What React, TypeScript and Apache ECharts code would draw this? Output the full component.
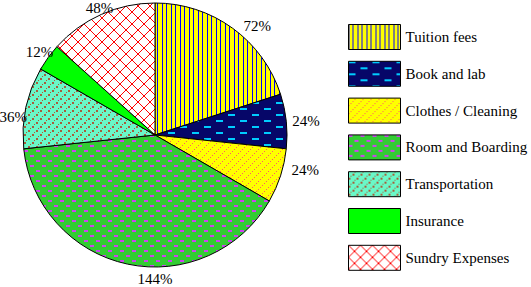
import React, { useEffect, useRef } from 'react';
import * as echarts from 'echarts';

const categories = [
  'Tuition fees',
  'Book and lab',
  'Clothes / Cleaning',
  'Room and Boarding',
  'Transportation',
  'Insurance',
  'Sundry Expenses',
];
const values = [72, 24, 24, 144, 36, 12, 48];

// label nudges (style only): [dx, dy]
const labelNudges = [
  [8, -2],
  [3, 0],
  [8, -6],
  [48, 15],
  [4, 9],
  [8, -5],
  [15, -6],
];

type Rect = [number, number, number, number];

function tile(w: number, h: number, bg: string, fg: string, rects: Rect[]) {
  const c = document.createElement('canvas');
  c.width = w;
  c.height = h;
  const ctx = c.getContext('2d')!;
  ctx.fillStyle = bg;
  ctx.fillRect(0, 0, w, h);
  ctx.fillStyle = fg;
  rects.forEach(([x, y, rw, rh]) => ctx.fillRect(x, y, rw, rh));
  return { image: c, repeat: 'repeat', imageWidth: w, imageHeight: h } as any;
}

function buildPatterns() {
  const tuition = tile(9, 4, '#FFFF00', '#0000FF', [
    [0, 0, 1, 4],
    [4, 0, 1, 4],
  ]);
  const book = tile(24, 12, '#060668', '#00CCFF', [
    [0, 0, 7, 2],
    [12, 6, 7, 2],
  ]);
  const clothes = tile(8, 8, '#FFFF00', '#FF5F5F', [
    [0, 7, 1, 1],
    [2, 5, 1, 1],
    [4, 3, 1, 1],
    [6, 1, 1, 1],
  ]);
  const room = tile(12, 10, '#33CC33', '#CC44EE', [
    [0, 0, 4, 2],
    [6, 5, 4, 2],
  ]);
  const transport = tile(8, 8, '#6AF8C8', '#A65E3A', [
    [0, 6, 2, 2],
    [4, 2, 2, 2],
    [2, 4, 1, 1],
    [6, 0, 1, 1],
  ]);
  const sundryRects: Rect[] = [];
  for (let i = 0; i < 12; i++) {
    sundryRects.push([i, i, 1, 1]);
    sundryRects.push([i, 11 - i, 1, 1]);
  }
  const sundry = tile(12, 12, '#FFFFFF', '#FF0000', sundryRects);
  return [tuition, book, clothes, room, transport, '#00FF00', sundry];
}

export default function App() {
  const ref = useRef<HTMLDivElement>(null);
  useEffect(() => {
    document.body.style.margin = '0';
    if (!ref.current) return;
    const chart = echarts.init(ref.current, undefined, { renderer: 'svg' });
    const fills = buildPatterns();
    const font = 'Liberation Serif, Times New Roman, serif';
    chart.setOption({
      animation: false,
      legend: {
        orient: 'vertical',
        left: 348,
        top: 24,
        padding: 0,
        itemWidth: 52,
        itemHeight: 25,
        itemGap: 10.8,
        icon: 'rect',
        selectedMode: false,
        data: categories,
        textStyle: { fontFamily: font, fontSize: 15, color: '#000' },
        itemStyle: { borderColor: '#000', borderWidth: 1 },
      },
      series: [
        {
          type: 'pie',
          center: [155, 135],
          radius: 132,
          startAngle: 90,
          clockwise: true,
          avoidLabelOverlap: false,
          emphasis: { disabled: true },
          itemStyle: { borderColor: '#000', borderWidth: 1 },
          label: {
            show: true,
            position: 'outside',
            formatter: '{c}%',
            fontFamily: font,
            fontSize: 15,
            color: '#000',
            distanceToLabelLine: 3,
          },
          labelLine: { show: false, length: 0, length2: 0 },
          labelLayout: (p: any) => ({
            dx: labelNudges[p.dataIndex][0],
            dy: labelNudges[p.dataIndex][1],
          }),
          data: categories.map((name, i) => ({
            name,
            value: values[i],
            itemStyle: { color: fills[i] },
          })),
        },
      ],
    });
    return () => chart.dispose();
  }, []);
  return <div ref={ref} style={{ width: 531, height: 287 }} />;
}
